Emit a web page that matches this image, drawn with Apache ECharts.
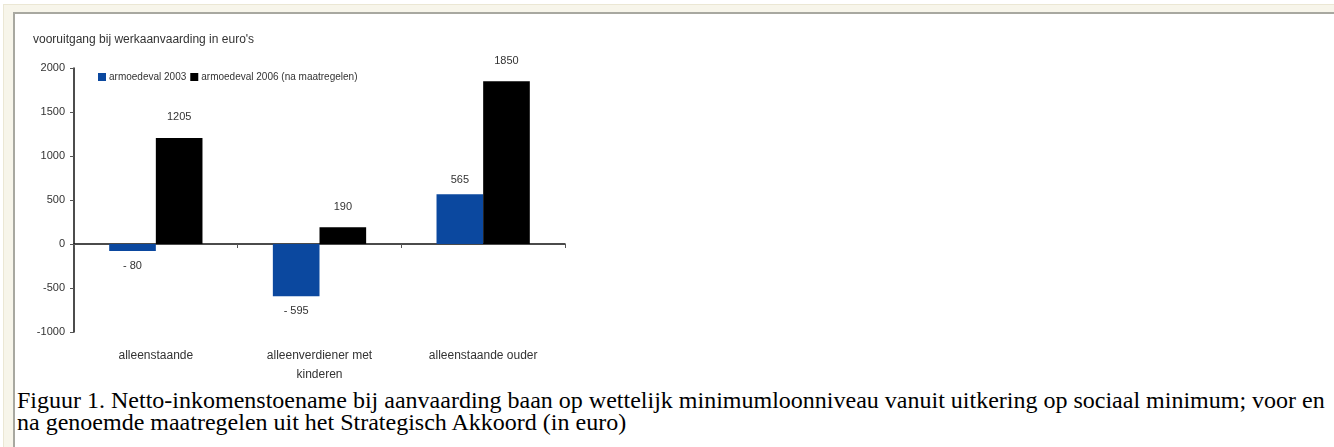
<!DOCTYPE html>
<html>
<head>
<meta charset="utf-8">
<script src="https://cdn.jsdelivr.net/npm/echarts@6/dist/echarts.min.js"></script>
<style>
  html, body { margin: 0; padding: 0; background: #fff; }
  body { width: 1334px; height: 447px; position: relative; overflow: hidden; }
  #frame {
    position: absolute; left: 3px; top: 4px; right: -10px; bottom: -10px;
    background: #f7f5ea; border-left: 1px solid #ebe7d4; border-top: 1px solid #ebe7d4;
  }
  #page {
    position: absolute; left: 13px; top: 12px; right: 0; bottom: 0;
    background: #fff; border-left: 2px solid #a8a8a0; border-top: 2px solid #a8a8a0;
  }
  #chart { position: absolute; left: 0; top: 0; width: 620px; height: 385px; }
  #caption {
    position: absolute; left: 17px; top: 389px;
    font-family: "Liberation Serif", "Times New Roman", serif;
    font-size: 24px; line-height: 22px; color: #000; white-space: nowrap;
    transform-origin: 0 0; transform: scaleX(1.0);
  }
</style>
</head>
<body>
<div id="frame"></div>
<div id="page"></div>
<div id="chart"></div>
<div id="caption">Figuur 1. Netto-inkomenstoename bij aanvaarding baan op wettelijk minimumloonniveau vanuit uitkering op sociaal minimum; voor en<br>na genoemde maatregelen uit het Strategisch Akkoord (in euro)</div>
<script>
// gegevens
var categorieen = ["alleenstaande", "alleenverdiener met\nkinderen", "alleenstaande ouder"];
var armoedeval2003 = [-80, -595, 565];
var armoedeval2006 = [1205, 190, 1850];
var seriesNamen = ["armoedeval 2003", "armoedeval 2006 (na maatregelen)"];

var font = '"Liberation Sans", Arial, sans-serif';

function labelFmt(p) {
  return p.value < 0 ? "- " + Math.abs(p.value) : String(p.value);
}

var myChart = echarts.init(document.getElementById('chart'));
var option = {
  animation: false,
  textStyle: { fontFamily: font },
  title: {
    text: "vooruitgang bij werkaanvaarding in euro's",
    left: 28, top: 29,
    textStyle: { fontSize: 12, fontWeight: 'normal', color: '#333', fontFamily: font }
  },
  legend: {
    data: seriesNamen,
    left: 93, top: 67,
    itemWidth: 8, itemHeight: 8, itemGap: 4,
    icon: 'rect',
    textStyle: { fontSize: 10, color: '#333', fontFamily: font, padding: [0, 0, 0, -2] }
  },
  grid: { left: 74, right: 620 - 565, top: 68, bottom: 385 - 332 },
  xAxis: [{
    type: 'category',
    data: categorieen,
    axisLine: { onZero: true, lineStyle: { color: '#111', width: 1.5 } },
    axisTick: { show: true, length: 4, lineStyle: { color: '#555' } },
    axisLabel: { show: false }
  }, {
    type: 'category',
    data: categorieen,
    position: 'bottom',
    axisLine: { show: false },
    axisTick: { show: false },
    axisLabel: { fontSize: 12, color: '#333', margin: 14, lineHeight: 19, fontFamily: font }
  }],
  yAxis: {
    type: 'value',
    min: -1000, max: 2000, interval: 500,
    splitLine: { show: false },
    axisLine: { show: true, lineStyle: { color: '#111', width: 1.5 } },
    axisTick: { show: true, length: 4, lineStyle: { color: '#555' } },
    axisLabel: { fontSize: 11, color: '#333', margin: 9, fontFamily: font, formatter: function (v) { return String(v); } }
  },
  series: [{
    name: seriesNamen[0],
    type: 'bar',
    data: armoedeval2003,
    barGap: '0%',
    barCategoryGap: '43%',
    itemStyle: { color: '#0b489f' },
    label: { show: true, position: 'outside', distance: 9, fontSize: 11, color: '#333', formatter: labelFmt }
  }, {
    name: seriesNamen[1],
    type: 'bar',
    data: armoedeval2006,
    itemStyle: { color: '#000' },
    label: { show: true, position: 'top', distance: 15, fontSize: 11, color: '#333', formatter: labelFmt }
  }]
};
myChart.setOption(option, true);
</script>
</body>
</html>
